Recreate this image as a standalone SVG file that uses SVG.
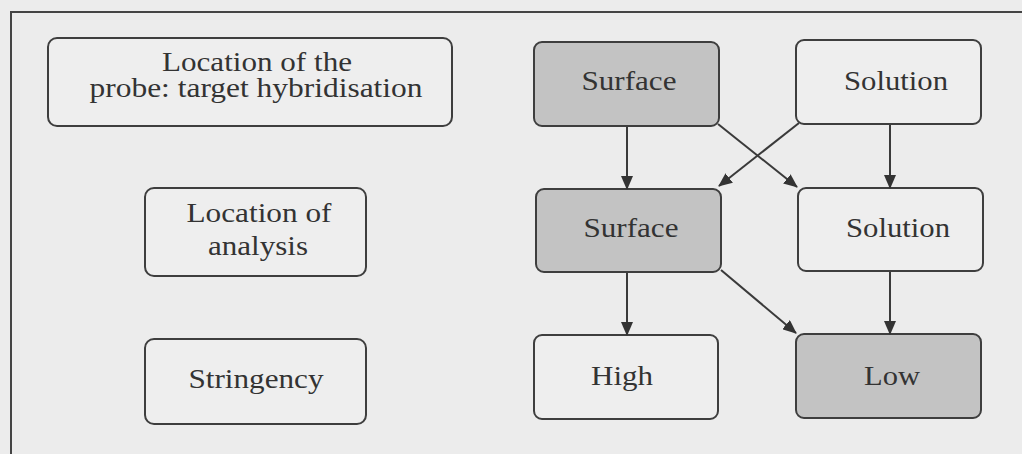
<svg xmlns="http://www.w3.org/2000/svg" width="1022" height="454" viewBox="0 0 1022 454">
<style>
.bx{fill:#eeeeee;stroke:#3e3e3e;stroke-width:2}
.gr{fill:#c3c3c3;stroke:#3e3e3e;stroke-width:2}
text{font-family:'Liberation Serif',Tinos,'Times New Roman',Times,serif;font-size:28px;fill:#333333;text-anchor:middle}
.c{stroke:#3a3a3a;stroke-width:2;fill:none;marker-end:url(#ah)}
</style>
<defs>
<marker id="ah" markerUnits="userSpaceOnUse" markerWidth="14" markerHeight="12" refX="13" refY="6" orient="auto">
<path d="M0,0 L14,6 L0,12 Z" fill="#333333"/>
</marker>
</defs>
<rect width="1022" height="454" fill="#ececec"/>
<rect x="11" y="12" width="1030" height="460" fill="#ececec" stroke="#444444" stroke-width="2"/>
<g id="hyb-label"><rect class="bx" x="48" y="38" width="404" height="88" rx="9"/><text x="257" y="71" textLength="190" lengthAdjust="spacingAndGlyphs">Location of the</text><text x="256" y="97" textLength="333" lengthAdjust="spacingAndGlyphs">probe: target hybridisation</text></g>
<g id="analysis-label"><rect class="bx" x="145" y="188" width="221" height="88" rx="9"/><text x="259" y="222" textLength="145" lengthAdjust="spacingAndGlyphs">Location of</text><text x="258" y="255" textLength="100" lengthAdjust="spacingAndGlyphs">analysis</text></g>
<g id="stringency-label"><rect class="bx" x="145" y="339" width="221" height="85" rx="9"/><text x="256" y="388" textLength="135" lengthAdjust="spacingAndGlyphs">Stringency</text></g>
<g id="surface-top"><rect class="gr" x="534" y="42" width="185" height="84" rx="8"/><text x="629" y="90" textLength="95" lengthAdjust="spacingAndGlyphs">Surface</text></g>
<g id="solution-top"><rect class="bx" x="796" y="40" width="185" height="84" rx="8"/><text x="896" y="90" textLength="104" lengthAdjust="spacingAndGlyphs">Solution</text></g>
<g id="surface-mid"><rect class="gr" x="536" y="189" width="185" height="83" rx="8"/><text x="631" y="237" textLength="95" lengthAdjust="spacingAndGlyphs">Surface</text></g>
<g id="solution-mid"><rect class="bx" x="798" y="188" width="185" height="83" rx="8"/><text x="898" y="237" textLength="104" lengthAdjust="spacingAndGlyphs">Solution</text></g>
<g id="high"><rect class="bx" x="534" y="335" width="184" height="84" rx="8"/><text x="622" y="385" textLength="62" lengthAdjust="spacingAndGlyphs">High</text></g>
<g id="low"><rect class="gr" x="796" y="334" width="185" height="84" rx="8"/><text x="892" y="385" textLength="56" lengthAdjust="spacingAndGlyphs">Low</text></g>
<g id="connectors">
<line class="c" x1="627" y1="127" x2="627" y2="189"/>
<line class="c" x1="718" y1="124" x2="797" y2="187"/>
<line class="c" x1="799" y1="123" x2="719" y2="186"/>
<line class="c" x1="890" y1="125" x2="890" y2="188"/>
<line class="c" x1="627" y1="273" x2="627" y2="335"/>
<line class="c" x1="721" y1="270" x2="796" y2="333"/>
<line class="c" x1="890" y1="272" x2="890" y2="334"/>
</g>
</svg>
